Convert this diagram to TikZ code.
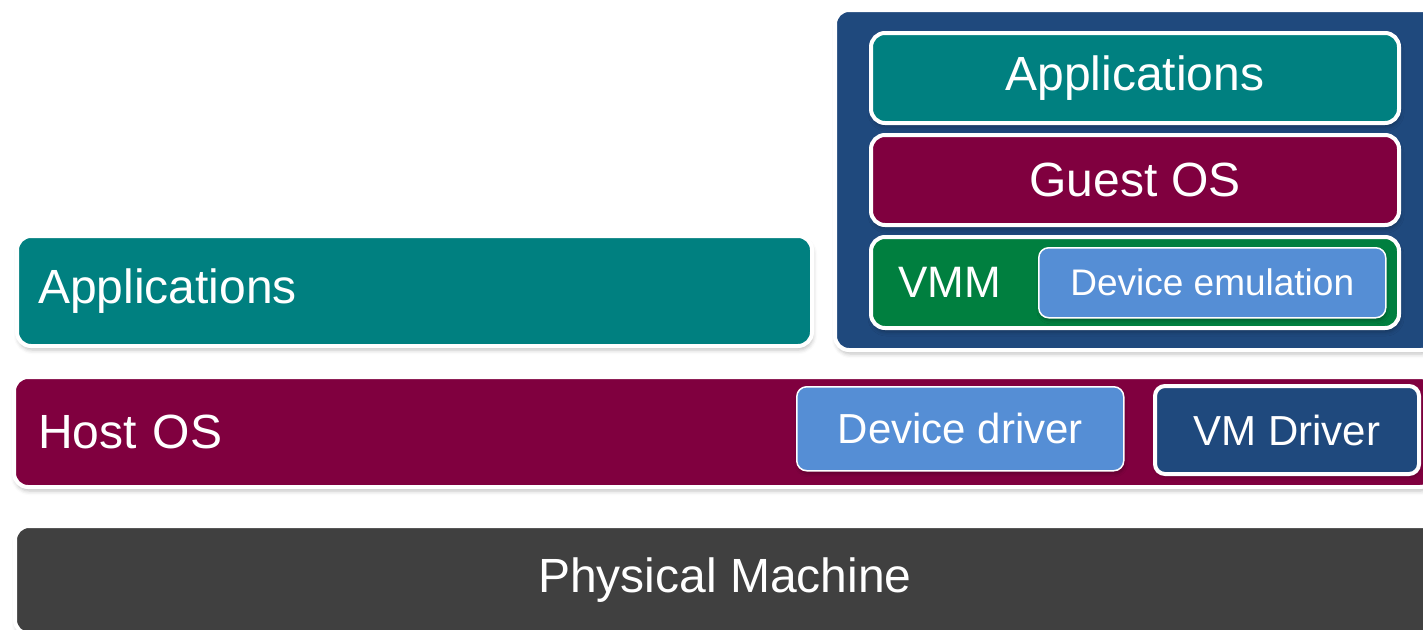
\documentclass[tikz,border=0pt]{standalone}
\usepackage{fontspec}
\setmainfont{Liberation Sans}
\usetikzlibrary{shadows.blur}
\definecolor{tealc}{HTML}{008080}
\definecolor{maroonc}{HTML}{80003F}
\definecolor{navyc}{HTML}{1F497D}
\definecolor{greenc}{HTML}{007F3F}
\definecolor{lbluec}{HTML}{558ED5}
\definecolor{dgrayc}{HTML}{404040}
\begin{document}
\begin{tikzpicture}[x=1pt,y=-1pt,
  layer/.style={rounded corners=14pt, draw=white, line width=4pt, text=white,
    anchor=north west, inner sep=0pt,
    font=\fontsize{48}{56}\selectfont,
    blur shadow={shadow xshift=1pt, shadow yshift=-4pt, shadow blur radius=4pt, shadow opacity=25}},
  chip/.style={rounded corners=10pt, draw=white, line width=1.5pt, text=white,
    anchor=north west, inner sep=0pt,
    blur shadow={shadow xshift=1pt, shadow yshift=-3pt, shadow blur radius=3pt, shadow opacity=25}}]
\useasboundingbox (0,0) rectangle (1423,629);
% left stack
\node[layer, fill=tealc, minimum width=795pt, minimum height=110pt,
  inner xsep=21pt, text width=753pt, align=left] (apps) at (15,234) {Applications};
\node[layer, fill=maroonc, minimum width=1420pt, minimum height=110pt,
  inner xsep=24pt, text width=1372pt, align=left] (host) at (12,375) {Host OS};
\node[layer, fill=dgrayc, minimum width=1420pt, minimum height=108pt] (phys) at (13,524) {Physical Machine};
% virtual machine
\node[layer, fill=navyc, minimum width=600pt, minimum height=340pt] (vm) at (833,8) {};
\node[layer, fill=tealc, minimum width=528pt, minimum height=90pt] (gapps) at (869,31) {Applications};
\node[layer, fill=maroonc, minimum width=528pt, minimum height=90pt] (guest) at (869,133) {Guest OS};
\node[layer, fill=greenc, minimum width=528pt, minimum height=91pt,
  inner xsep=27pt, text width=474pt, align=left,
  font=\fontsize{44}{52}\selectfont] (vmm) at (869,235) {VMM};
\node[chip, fill=lbluec, minimum width=347pt, minimum height=70pt,
  font=\fontsize{37}{44}\selectfont] (emu) at (1038,247) {Device emulation};
% drivers
\node[chip, fill=lbluec, minimum width=327pt, minimum height=84pt,
  font=\fontsize{42}{50}\selectfont] (ddrv) at (796,386) {Device driver};
\node[chip, fill=navyc, line width=4pt, minimum width=264pt, minimum height=88pt,
  font=\fontsize{42}{50}\selectfont] (vmdrv) at (1153,384) {VM Driver};
\end{tikzpicture}
\end{document}
